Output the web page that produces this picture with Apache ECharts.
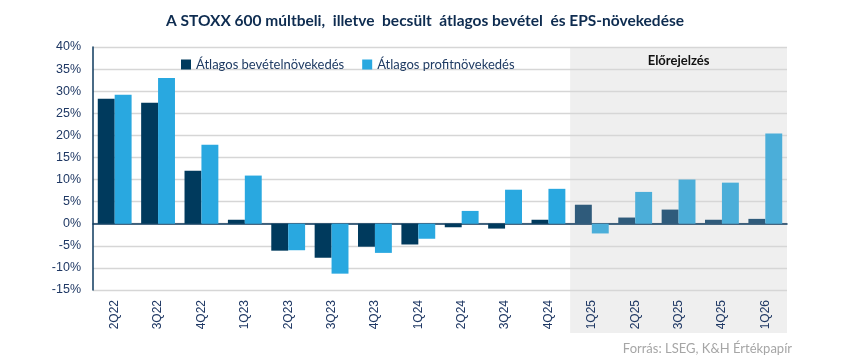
<!DOCTYPE html>
<html><head><meta charset="utf-8">
<script src="https://cdn.jsdelivr.net/npm/echarts@6/dist/echarts.min.js"></script>
<style>html,body{margin:0;padding:0;background:#fff}#c{width:850px;height:359px}</style>
</head><body><div id="c"></div>
<script>
const categories = ['2Q22','3Q22','4Q22','1Q23','2Q23','3Q23','4Q23','1Q24','2Q24','3Q24','4Q24','1Q25','2Q25','3Q25','4Q25','1Q26'];
const revenueGrowth = [28.3, 27.4, 12.0, 0.9, -6.1, -7.7, -5.2, -4.7, -0.8, -1.1, 0.9, 4.3, 1.4, 3.2, 0.9, 1.1];
const profitGrowth = [29.2, 33.0, 17.9, 10.9, -6.0, -11.3, -6.6, -3.4, 2.9, 7.7, 7.9, -2.2, 7.2, 10.0, 9.3, 20.4];
const forecastStart = '1Q25';
const yTicks = {min: -15, max: 40, interval: 5};

const C_DARK = '#003A5D', C_LIGHT = '#29A8E0', C_DARK_F = '#2F5B7B', C_LIGHT_F = '#4BAED9';
const fIdx = categories.indexOf(forecastStart);
const chart = echarts.init(document.getElementById('c'));
function mk(vals, c, cf){ return vals.map((v,i)=>({value:v, itemStyle:{color: i>=fIdx?cf:c}})); }
const option = {
  animation:false,
  title:{text:'A STOXX 600 múltbeli,  illetve  becsült  átlagos bevétel  és EPS-növekedése', left:'center', top:8,
    textStyle:{fontFamily:'Lato', fontWeight:'bold', fontSize:15.5, color:'#0E2C50'}},
  legend:{left:176, top:53, itemWidth:10, itemHeight:10, itemGap:18, icon:'rect',
    textStyle:{fontFamily:'Lato', fontSize:13, color:'#1F3B63'},
    data:[{name:'Átlagos bevételnövekedés', itemStyle:{color:C_DARK}},{name:'Átlagos profitnövekedés', itemStyle:{color:C_LIGHT}}]},
  grid:{left:93, right:63, top:47, bottom:69},
  xAxis:{type:'category', data:categories,
    axisLine:{lineStyle:{color:'#0E3A5E', width:1.5}}, axisTick:{show:false},
    axisLabel:{rotate:90, fontFamily:'Liberation Sans', fontSize:12, color:'#1F3864', margin:10, interval:0}},
  yAxis:{type:'value', min:yTicks.min, max:yTicks.max, interval:yTicks.interval,
    axisLine:{show:true, lineStyle:{color:'#0E3A5E', width:1.5}}, axisTick:{show:false},
    splitLine:{lineStyle:{color:'#D6D6D6', width:1.3}},
    axisLabel:{formatter:'{value}%', fontFamily:'Liberation Sans', fontSize:12.5, color:'#1F3864', margin:12}},
  series:[
    {name:'Átlagos bevételnövekedés', type:'bar', data:mk(revenueGrowth,C_DARK,C_DARK_F), barGap:'0%', barCategoryGap:'22%', itemStyle:{color:C_DARK}, z:3},
    {name:'Átlagos profitnövekedés', type:'bar', data:mk(profitGrowth,C_LIGHT,C_LIGHT_F), itemStyle:{color:C_LIGHT}, z:3}
  ]
};
chart.setOption(option);
const gw = 850-93-63;
const band = gw / categories.length;
const x0 = chart.convertToPixel({xAxisIndex:0}, forecastStart) - band/2;
const yTop = chart.convertToPixel({yAxisIndex:0}, yTicks.max);
const xEnd = 850-63;
chart.setOption({graphic:[
  {type:'rect', z:-10, zlevel:0, silent:true, shape:{x:x0, y:yTop, width:xEnd-x0, height:333-yTop}, style:{fill:'#EFEFEF'}},
  {type:'text', left:null, x:(x0+xEnd)/2, y:54, style:{text:'Előrejelzés', fontFamily:'Lato', fontWeight:'bold', fontSize:13, fill:'#111', textAlign:'center'}},
  {type:'text', x:792, y:342, style:{text:'Forrás: LSEG, K&H Értékpapír', fontFamily:'Lato', fontSize:13, fill:'#A6A6A6', textAlign:'right'}}
]});
</script></body></html>
